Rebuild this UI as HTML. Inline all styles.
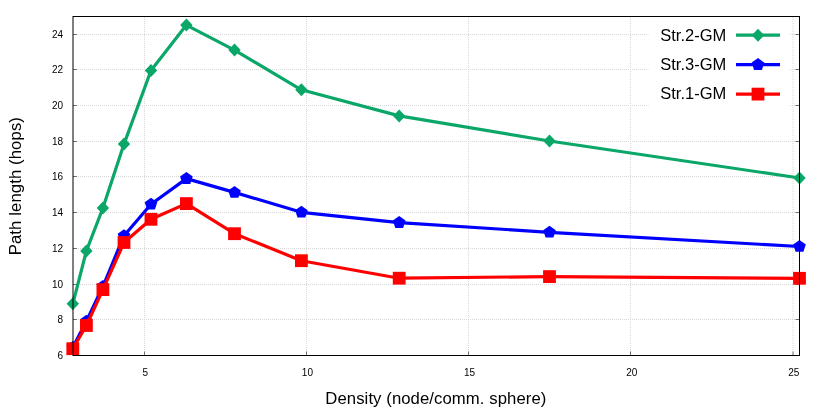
<!DOCTYPE html>
<html><head><meta charset="utf-8"><title>chart</title>
<style>html,body{margin:0;padding:0;background:#fff}svg{will-change:transform}svg{display:block}text{font-family:"Liberation Sans",sans-serif;fill:#000}</style></head><body>
<svg width="830" height="410" viewBox="0 0 830 410">
<rect width="830" height="410" fill="#fff"/>
<g stroke="#d8d8d8" stroke-width="1" stroke-dasharray="1 1" fill="none">
<path d="M74 319.5H799"/>
<path d="M74 284.5H799"/>
<path d="M74 248.5H799"/>
<path d="M74 212.5H799"/>
<path d="M74 176.5H799"/>
<path d="M74 141.5H799"/>
<path d="M74 105.5H799"/>
<path d="M74 69.5H799"/>
<path d="M74 34.5H799"/>
<path d="M144.5 17V355"/>
<path d="M306.5 17V355"/>
<path d="M468.5 17V355"/>
<path d="M630.5 17V355"/>
<path d="M793 17V355"/>
</g>
<g stroke="#707070" stroke-width="1" fill="none">
<path d="M73.0 355.5h4M799.5 355.5h-4"/>
<path d="M73.0 319.5h4M799.5 319.5h-4"/>
<path d="M73.0 284.5h4M799.5 284.5h-4"/>
<path d="M73.0 248.5h4M799.5 248.5h-4"/>
<path d="M73.0 212.5h4M799.5 212.5h-4"/>
<path d="M73.0 176.5h4M799.5 176.5h-4"/>
<path d="M73.0 141.5h4M799.5 141.5h-4"/>
<path d="M73.0 105.5h4M799.5 105.5h-4"/>
<path d="M73.0 69.5h4M799.5 69.5h-4"/>
<path d="M73.0 34.5h4M799.5 34.5h-4"/>
<path d="M144.5 355.5v-4"/>
<path d="M306.5 355.5v-4"/>
<path d="M468.5 355.5v-4"/>
<path d="M630.5 355.5v-4"/>
<path d="M793.0 355.5v-4"/>
</g>
<polyline points="72.8,303.8 86.4,250.9 102.9,208.0 124.0,144.1 151.0,70.5 186.4,25.1 234.5,50.1 301.4,89.8 399.2,115.9 549.5,141.0 799.5,178.0" fill="none" stroke="#0aa768" stroke-width="3.2" stroke-linejoin="round"/>
<g fill="#0aa768"><path d="M66.6 303.8L72.8 297.3L79.0 303.8L72.8 310.3Z"/><path d="M80.2 250.9L86.4 244.4L92.6 250.9L86.4 257.4Z"/><path d="M96.7 208.0L102.9 201.5L109.1 208.0L102.9 214.5Z"/><path d="M117.8 144.1L124.0 137.6L130.2 144.1L124.0 150.6Z"/><path d="M144.8 70.5L151.0 64.0L157.2 70.5L151.0 77.0Z"/><path d="M180.2 25.1L186.4 18.6L192.6 25.1L186.4 31.6Z"/><path d="M228.3 50.1L234.5 43.6L240.7 50.1L234.5 56.6Z"/><path d="M295.2 89.8L301.4 83.3L307.6 89.8L301.4 96.3Z"/><path d="M393.0 115.9L399.2 109.4L405.4 115.9L399.2 122.4Z"/><path d="M543.3 141.0L549.5 134.5L555.7 141.0L549.5 147.5Z"/><path d="M793.3 178.0L799.5 171.5L805.7 178.0L799.5 184.5Z"/></g>
<polyline points="72.8,347.5 86.4,321.3 102.9,286.5 124.0,235.7 151.0,204.2 186.4,178.6 234.5,192.4 301.4,212.3 399.2,222.6 549.5,232.3 799.5,246.5" fill="none" stroke="#0000ff" stroke-width="3.2" stroke-linejoin="round"/>
<g fill="#0000ff"><path d="M72.8 341.0L79.1 345.5L76.7 352.8L68.9 352.8L66.5 345.5Z"/><path d="M86.4 314.8L92.7 319.3L90.3 326.6L82.5 326.6L80.1 319.3Z"/><path d="M102.9 280.0L109.2 284.5L106.8 291.8L99.0 291.8L96.6 284.5Z"/><path d="M124.0 229.2L130.3 233.7L127.9 241.0L120.1 241.0L117.7 233.7Z"/><path d="M151.0 197.7L157.3 202.2L154.9 209.5L147.1 209.5L144.7 202.2Z"/><path d="M186.4 172.1L192.7 176.6L190.3 183.9L182.5 183.9L180.1 176.6Z"/><path d="M234.5 185.9L240.8 190.4L238.4 197.7L230.6 197.7L228.2 190.4Z"/><path d="M301.4 205.8L307.7 210.3L305.3 217.6L297.5 217.6L295.1 210.3Z"/><path d="M399.2 216.1L405.5 220.6L403.1 227.9L395.3 227.9L392.9 220.6Z"/><path d="M549.5 225.8L555.8 230.3L553.4 237.6L545.6 237.6L543.2 230.3Z"/><path d="M799.5 240.0L805.8 244.5L803.4 251.8L795.6 251.8L793.2 244.5Z"/></g>
<polyline points="72.8,348.7 86.4,325.5 102.9,289.6 124.0,242.5 151.0,219.3 186.4,203.6 234.5,233.7 301.4,260.7 399.2,278.2 549.5,276.6 799.5,278.3" fill="none" stroke="#ff0000" stroke-width="3.2" stroke-linejoin="round"/>
<g fill="#ff0000"><rect x="66.4" y="342.3" width="12.8" height="12.8"/><rect x="80.0" y="319.1" width="12.8" height="12.8"/><rect x="96.5" y="283.2" width="12.8" height="12.8"/><rect x="117.6" y="236.1" width="12.8" height="12.8"/><rect x="144.6" y="212.9" width="12.8" height="12.8"/><rect x="180.0" y="197.2" width="12.8" height="12.8"/><rect x="228.1" y="227.3" width="12.8" height="12.8"/><rect x="295.0" y="254.3" width="12.8" height="12.8"/><rect x="392.8" y="271.8" width="12.8" height="12.8"/><rect x="543.1" y="270.2" width="12.8" height="12.8"/><rect x="793.1" y="271.9" width="12.8" height="12.8"/></g>
<rect x="648.5" y="17" width="140.5" height="95" fill="#fff"/>
<text x="726.3" y="40.5" font-size="16.5" text-anchor="end">Str.2-GM</text>
<path d="M736 35.2H780" stroke="#0aa768" stroke-width="3.2" fill="none"/>
<g fill="#0aa768"><path d="M751.8 35.2L758.0 28.7L764.2 35.2L758.0 41.7Z"/></g>
<text x="726.3" y="69.9" font-size="16.5" text-anchor="end">Str.3-GM</text>
<path d="M736 64.6H780" stroke="#0000ff" stroke-width="3.2" fill="none"/>
<g fill="#0000ff"><path d="M758.0 58.1L764.3 62.6L761.9 69.9L754.1 69.9L751.7 62.6Z"/></g>
<text x="726.3" y="99.4" font-size="16.5" text-anchor="end">Str.1-GM</text>
<path d="M736 94.1H780" stroke="#ff0000" stroke-width="3.2" fill="none"/>
<g fill="#ff0000"><rect x="751.6" y="87.7" width="12.8" height="12.8"/></g>
<rect x="73.0" y="16.5" width="726.5" height="339.0" fill="none" stroke="#000" stroke-width="1"/>
<g font-size="10">
<text x="63" y="359.1" text-anchor="end">6</text>
<text x="63" y="323.1" text-anchor="end">8</text>
<text x="63" y="288.1" text-anchor="end">10</text>
<text x="63" y="252.1" text-anchor="end">12</text>
<text x="63" y="216.1" text-anchor="end">14</text>
<text x="63" y="180.1" text-anchor="end">16</text>
<text x="63" y="145.1" text-anchor="end">18</text>
<text x="63" y="109.1" text-anchor="end">20</text>
<text x="63" y="73.1" text-anchor="end">22</text>
<text x="63" y="38.1" text-anchor="end">24</text>
<text x="145.3" y="376.2" text-anchor="middle">5</text>
<text x="307.4" y="376.2" text-anchor="middle">10</text>
<text x="469.6" y="376.2" text-anchor="middle">15</text>
<text x="631.7" y="376.2" text-anchor="middle">20</text>
<text x="793.8" y="376.2" text-anchor="middle">25</text>
</g>
<text x="435.8" y="403.6" font-size="16.7" text-anchor="middle" textLength="221" lengthAdjust="spacing">Density (node/comm. sphere)</text>
<text transform="translate(20.6 186.2) rotate(-90)" font-size="16.7" text-anchor="middle" textLength="138.2" lengthAdjust="spacing">Path length (hops)</text>
</svg></body></html>
